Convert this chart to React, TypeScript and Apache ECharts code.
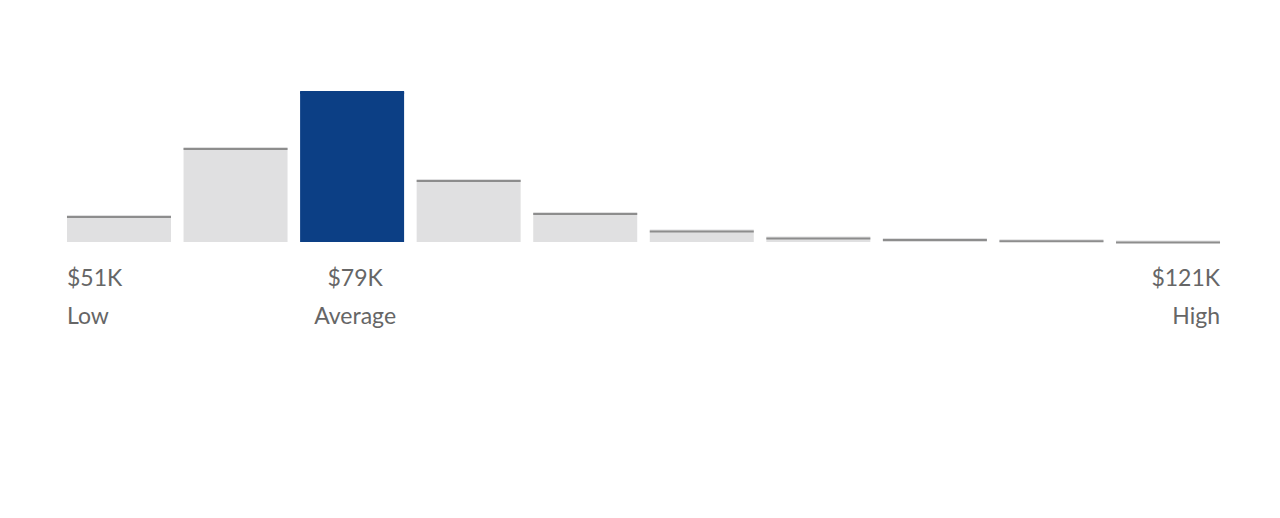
import React, { useEffect, useRef } from "react";
import * as echarts from "echarts";

// salary distribution buckets (relative counts)
const buckets = ["b1", "b2", "b3", "b4", "b5", "b6", "b7", "b8", "b9", "b10"];
const counts = [27, 95, 151, 63, 30, 12.5, 5.5, 4, 2.8, 1.5];
const highlightIndex = 2;

const markerIndex = [0, 2, 9];
const markerValues = ["$51K", "$79K", "$121K"];
const markerNames = ["Low", "Average", "High"];

const GREY = "#e0e0e1";
const CAP = "#8d8d8d";
const BLUE = "#0c3f85";
const TEXT = "#666666";
const BAR_W = 104;
const FONT = '23px Lato, "Open Sans", sans-serif';

const App: React.FC = () => {
    const ref = useRef<HTMLDivElement | null>(null);

    useEffect(() => {
        if (!ref.current) return;
        const inst = echarts.init(ref.current, undefined, { renderer: "svg" });

        inst.setOption({
            animation: false,
            grid: { left: 60.7, right: 53.7, top: 82, bottom: 276, containLabel: false },
            xAxis: {
                type: "category",
                data: buckets,
                axisLine: { show: false },
                axisTick: { show: false },
                axisLabel: { show: false },
            },
            yAxis: {
                type: "value",
                min: 0,
                max: 160,
                show: false,
                splitLine: { show: false },
            },
            series: [
                {
                    type: "bar",
                    barWidth: BAR_W,
                    barGap: "-100%",
                    data: counts.map((v, i) => ({
                        value: v,
                        itemStyle: { color: i === highlightIndex ? BLUE : GREY },
                    })),
                    silent: true,
                },
                {
                    type: "pictorialBar",
                    symbol: "rect",
                    symbolSize: [BAR_W, 2],
                    symbolPosition: "end",
                    symbolOffset: [0, 1],
                    barGap: "-100%",
                    z: 3,
                    data: counts.map((v, i) => ({
                        value: v,
                        itemStyle: { color: i === highlightIndex ? BLUE : CAP },
                    })),
                    silent: true,
                },
            ],
        });

        // labels under the bars, placed through the category axis
        const elements: any[] = [];
        markerIndex.forEach((idx, k) => {
            const c = inst.convertToPixel({ xAxisIndex: 0 }, buckets[idx]) as number;
            let x = c + 3;
            let align = "center";
            if (k === 0) {
                x = c - BAR_W / 2;
                align = "left";
            } else if (k === markerIndex.length - 1) {
                x = c + BAR_W / 2;
                align = "right";
            }
            elements.push({
                type: "text",
                x,
                y: 277,
                style: { text: markerValues[k], fill: TEXT, font: FONT, align, verticalAlign: "middle" },
            });
            elements.push({
                type: "text",
                x,
                y: 315,
                style: { text: markerNames[k], fill: TEXT, font: FONT, align, verticalAlign: "middle" },
            });
        });
        inst.setOption({ graphic: { elements } });

        return () => inst.dispose();
    }, []);

    return (
        <div
            style={{ position: "fixed", left: 0, top: 0, width: 1280, height: 518, background: "#fff" }}
        >
            <div ref={ref} style={{ width: 1280, height: 518 }} />
        </div>
    );
};

export default App;
